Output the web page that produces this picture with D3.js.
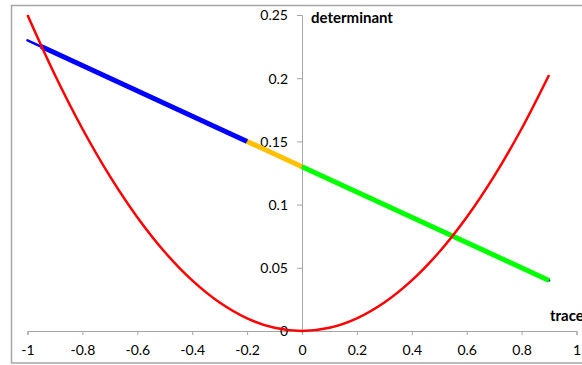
<!DOCTYPE html>
<html><head><meta charset="utf-8">
<script src="https://cdn.jsdelivr.net/npm/d3@7"></script>
<style>
html,body{margin:0;padding:0;background:#fff;}
svg{display:block;font-family:Lato,"Open Sans",sans-serif;}
</style></head>
<body>
<svg id="chart" width="582" height="365"></svg>
<script>
// Parabola det = trace^2/4
const parabolaTrace = [-1,-0.9,-0.8,-0.7,-0.6,-0.5,-0.4,-0.3,-0.2,-0.1,0,0.1,0.2,0.3,0.4,0.5,0.6,0.7,0.8,0.9];
const parabolaDet   = [0.25,0.2025,0.16,0.1225,0.09,0.0625,0.04,0.0225,0.01,0.0025,0,0.0025,0.01,0.0225,0.04,0.0625,0.09,0.1225,0.16,0.2025];
// Straight path, drawn as thin blue base line plus thick coloured segments
const baseLineTrace = [-1, 0.9];
const baseLineDet   = [0.23, 0.04];
const blueTrace   = [-0.95, -0.2];
const blueDet     = [0.225, 0.15];
const orangeTrace = [-0.2, 0];
const orangeDet   = [0.15, 0.13];
const greenTrace  = [0, 0.9];
const greenDet    = [0.13, 0.04];
const xTicks = [-1,-0.8,-0.6,-0.4,-0.2,0,0.2,0.4,0.6,0.8,1];
const yTicks = [0,0.05,0.1,0.15,0.2,0.25];

const svg = d3.select("#chart");
const x = d3.scaleLinear().domain([-1,1]).range([27.5,576.5]);
const y = d3.scaleLinear().domain([0,0.25]).range([331,15]);

// outer border
svg.append("rect").attr("x",11.5).attr("y",5.5).attr("width",600).attr("height",357.5)
  .attr("fill","none").attr("stroke","#a6a6a6").attr("stroke-width",1.5);

const axisColor = "#a6a6a6";
const fmt = d => String(d);

// X axis
const xAxis = svg.append("g").attr("transform",`translate(0,${y(0)})`)
  .call(d3.axisBottom(x).tickValues(xTicks).tickSize(4).tickPadding(10).tickFormat(fmt));
// Y axis
const yAxis = svg.append("g").attr("transform",`translate(${x(0)},0)`)
  .call(d3.axisLeft(y).tickValues(yTicks).tickSize(5).tickPadding(9).tickFormat(fmt));
[xAxis,yAxis].forEach(a=>{
  a.select(".domain").attr("stroke",axisColor);
  a.selectAll(".tick line").attr("stroke",axisColor);
  a.selectAll("text").attr("fill","#000").style("font-size","14px").style("font-family","Lato,'Open Sans',sans-serif");
});
yAxis.selectAll(".tick text").attr("dy","0.35em");

const line = d3.line().x(d=>x(d[0])).y(d=>y(d[1]));
const zip = (a,b)=>a.map((v,i)=>[v,b[i]]);

// thin blue base line
svg.append("path").attr("d",line(zip(baseLineTrace,baseLineDet)))
  .attr("stroke","#0000ff").attr("stroke-width",2.5).attr("fill","none").attr("stroke-linecap","round");
// thick segments
[[blueTrace,blueDet,"#0000ff"],[orangeTrace,orangeDet,"#ffc000"],[greenTrace,greenDet,"#00ff00"]].forEach(([t,d,c])=>{
  svg.append("path").attr("d",line(zip(t,d)))
    .attr("stroke",c).attr("stroke-width",5).attr("fill","none");
});

// parabola
svg.append("path").attr("d",line.curve(d3.curveCatmullRom)(zip(parabolaTrace,parabolaDet)))
  .attr("stroke","#ff0000").attr("stroke-width",2.5).attr("fill","none");

// axis titles
svg.append("text").attr("x",311).attr("y",23).text("determinant")
  .style("font-size","15px").style("font-weight","bold");
svg.append("text").attr("x",550).attr("y",321).text("trace")
  .style("font-size","15px").style("font-weight","bold");
</script>
</body></html>
